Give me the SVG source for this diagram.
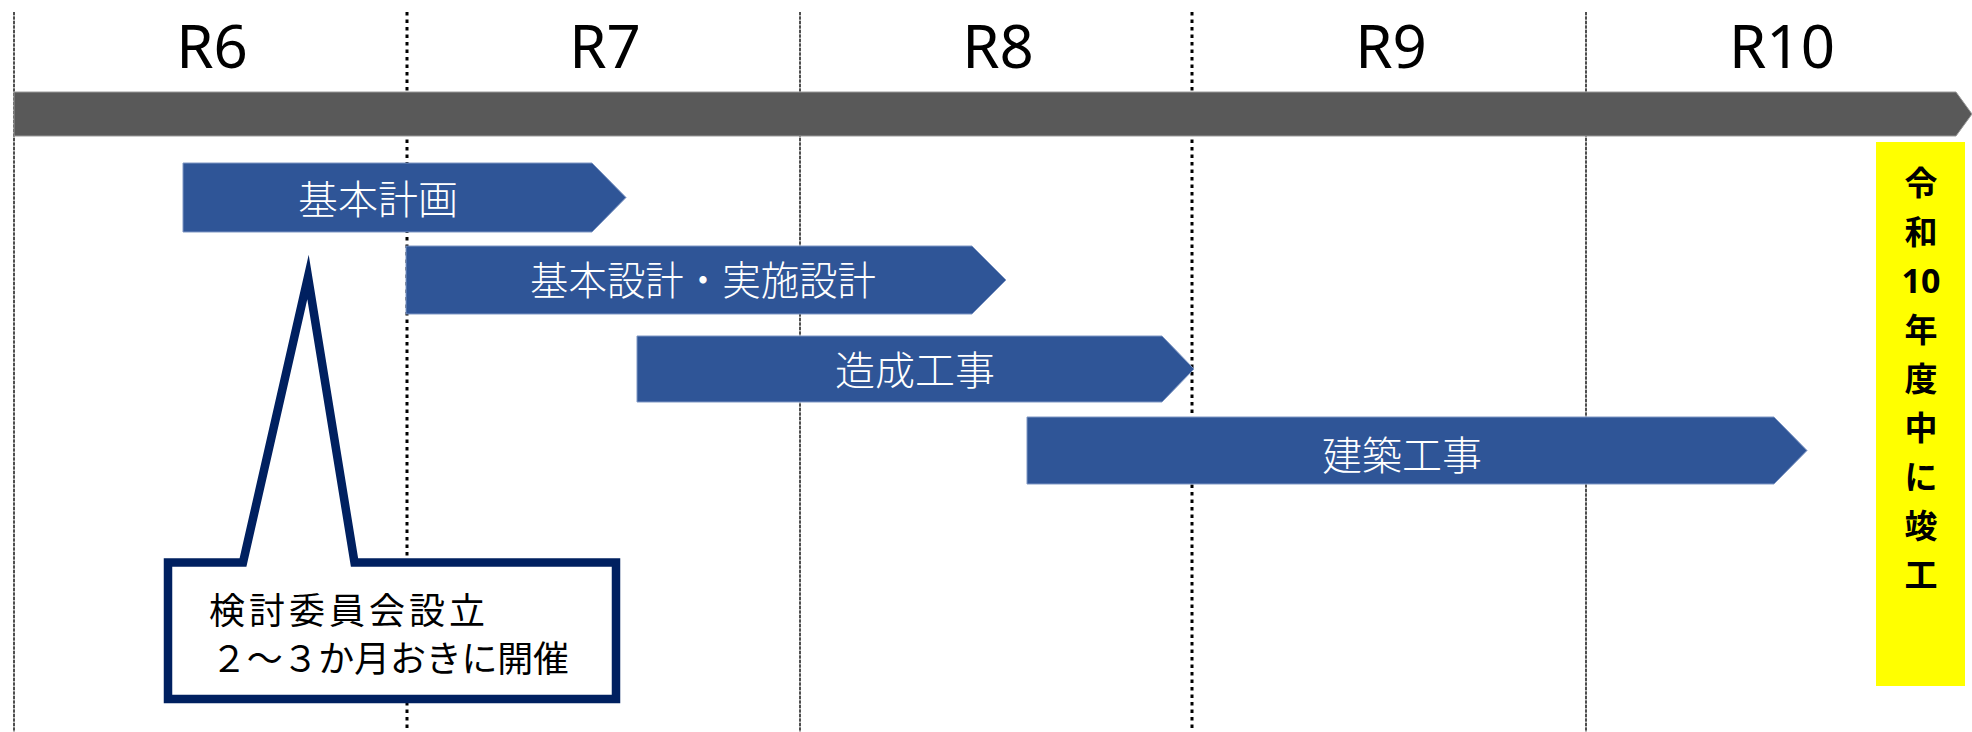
<svg xmlns="http://www.w3.org/2000/svg" width="1972" height="732" viewBox="0 0 1972 732">
<style>
.yr{font-family:"Noto Sans","Liberation Sans",sans-serif;font-size:60px;fill:#000;text-anchor:middle}
.bar{fill:#2F5597;stroke:#7F97C4;stroke-width:1}
.bl{font-family:"Noto Sans CJK JP","Noto Sans",sans-serif;font-size:40px;fill:#fff;text-anchor:middle;font-weight:300}
.thin{stroke:#333;stroke-width:1.6;stroke-dasharray:3 1.5;fill:none}
.thinbg{stroke:#b0b0b0;stroke-width:1.6;fill:none}
.bold{stroke:#000;stroke-width:3;stroke-dasharray:3.5 4;fill:none}
.yl{font-family:"Noto Sans CJK JP",sans-serif;font-size:33px;font-weight:700;fill:#000;text-anchor:middle}
.cl{font-family:"Noto Sans CJK JP","Noto Sans",sans-serif;font-size:36px;fill:#000}
</style>
<rect width="1972" height="732" fill="#fff"/>
<g id="gridlines">
<line class="thinbg" x1="14" y1="12" x2="14" y2="732"/>
<line class="thin" x1="14" y1="12" x2="14" y2="732"/>
<line class="bold" x1="407" y1="12" x2="407" y2="732"/>
<line class="thinbg" x1="800" y1="12" x2="800" y2="732"/>
<line class="thin" x1="800" y1="12" x2="800" y2="732"/>
<line class="bold" x1="1192" y1="12" x2="1192" y2="732"/>
<line class="thinbg" x1="1586" y1="12" x2="1586" y2="732"/>
<line class="thin" x1="1586" y1="12" x2="1586" y2="732"/>
</g>
<g id="years">
<text class="yr" x="212" y="68">R6</text>
<text class="yr" x="605" y="68">R7</text>
<text class="yr" x="998" y="68">R8</text>
<text class="yr" x="1391" y="68">R9</text>
<text class="yr" x="1782" y="68">R10</text>
</g>
<g id="timeline">
<path d="M14,92 H1956 L1972,114 L1956,136 H14 Z" fill="#595959" stroke="#9a9a9a" stroke-width="1"/>
</g>
<g id="kihonkeikaku">
<path class="bar" d="M183,163 H592 L626,197.5 L592,232 H183 Z"/>
<text class="bl" x="378" y="214">基本計画</text>
</g>
<g id="sekkei">
<path class="bar" d="M406,246 H972 L1006,280 L972,314 H406 Z"/>
<text class="bl" x="703" y="295" textLength="346" lengthAdjust="spacingAndGlyphs">基本設計・実施設計</text>
</g>
<g id="zousei">
<path class="bar" d="M637,336 H1162 L1194,369 L1162,402 H637 Z"/>
<text class="bl" x="915" y="385">造成工事</text>
</g>
<g id="kenchiku">
<path class="bar" d="M1027,417 H1774 L1807,450.5 L1774,484 H1027 Z"/>
<text class="bl" x="1402" y="470">建築工事</text>
</g>
<g id="callout">
<path d="M168,562.5 H243 L308,277 L354.5,562.5 H616 V699 H168 Z" fill="#fff" stroke="#002060" stroke-width="8.5" stroke-miterlimit="12"/>
<text class="cl" x="209" y="624" textLength="276" lengthAdjust="spacing">検討委員会設立</text>
<text class="cl" x="211" y="672" textLength="358" lengthAdjust="spacing">２～３か月おきに開催</text>
</g>
<g id="completion">
<rect x="1876" y="142" width="89" height="544" fill="#FFFF00"/>
<text class="yl" x="1921" y="194.5">令</text>
<text class="yl" x="1921" y="243.5">和</text>
<text class="yl" x="1921" y="293" style="font-family:'Noto Sans',sans-serif;font-size:34px">10</text>
<text class="yl" x="1921" y="341.5">年</text>
<text class="yl" x="1921" y="390.5">度</text>
<text class="yl" x="1921" y="439.5">中</text>
<text class="yl" x="1921" y="488.5">に</text>
<text class="yl" x="1921" y="537.5">竣</text>
<text class="yl" x="1921" y="586.5">工</text>
</g>
</svg>
